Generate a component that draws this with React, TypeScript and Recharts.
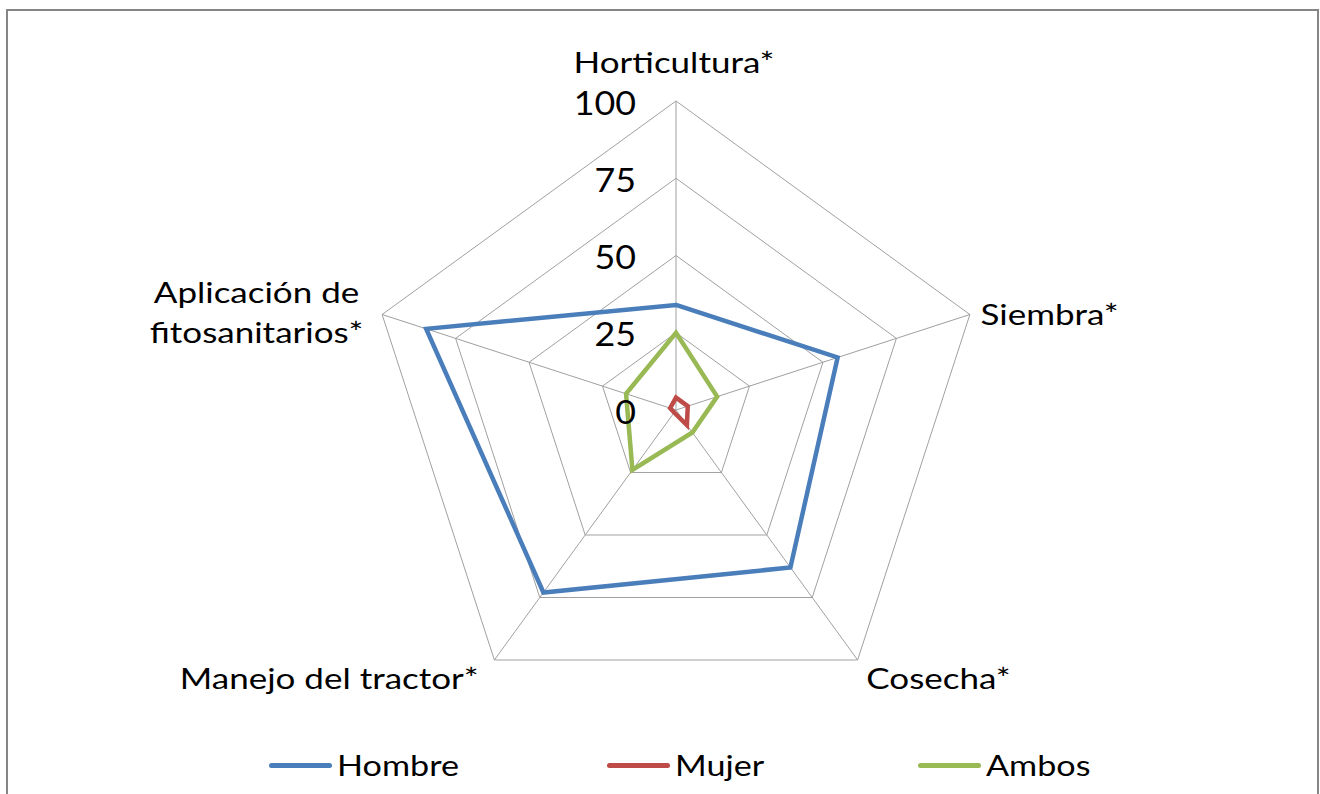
import React from 'react';
import { RadarChart, PolarGrid, PolarAngleAxis, PolarRadiusAxis, Radar, Legend } from 'recharts';

const categories = ['Horticultura*', 'Siembra*', 'Cosecha*', 'Manejo del tractor*', 'Aplicación de fitosanitarios*'];
const categoryLabelLines = [['Horticultura*'], ['Siembra*'], ['Cosecha*'], ['Manejo del tractor*'], ['Aplicación de', 'fitosanitarios*']];
const seriesNames = ['Hombre', 'Mujer', 'Ambos'];
const hombre = [34, 55, 63, 73, 85];
const mujer = [4, 4, 6, 1, 2];
const ambos = [25, 14, 9, 24, 17];
const radiusTicks = [0, 25, 50, 75, 100];

const data = categories.map((c, i) => ({ cat: c, hombre: hombre[i], mujer: mujer[i], ambos: ambos[i] }));

const FONT = 'Lato, "Noto Sans", sans-serif';
const STRETCH = 1.25;

// per-index label placement relative to the tick anchor point
const labelPlacement = [
  { dx: -2, dy: -31, anchor: 'middle' },
  { dx: 3, dy: 2, anchor: 'start' },
  { dx: 4, dy: 12, anchor: 'start' },
  { dx: -11, dy: 12, anchor: 'end' },
  { dx: -118, dy: 0, anchor: 'middle' },
];

const AngleTick = (props: any) => {
  const { x, y, index } = props;
  const p = labelPlacement[index] || { dx: 0, dy: 0, anchor: 'middle' };
  const lines = categoryLabelLines[index] || [String(props.payload?.value)];
  const lh = 40;
  const start = -((lines.length - 1) * lh) / 2;
  return (
    <text transform={`translate(${x + p.dx},${y + p.dy}) scale(${STRETCH},1)`} x={0} y={0} textAnchor={p.anchor} fill="#000" fontSize={28} fontFamily={FONT}>
      {lines.map((l: string, i: number) => (
        <tspan key={i} x={0} dy={i === 0 ? start : lh} dominantBaseline="central">{l}</tspan>
      ))}
    </text>
  );
};

const RadiusTick = (props: any) => {
  const { x, y, payload } = props;
  return (
    <text transform={`translate(${x - 40},${y + 1}) scale(1.12,1)`} x={0} y={0} textAnchor="end" dominantBaseline="central" fill="#000" fontSize={32} fontFamily={FONT}>
      {payload.value}
    </text>
  );
};

const LegendContent = (props: any) => {
  const payload = [...(props.payload || [])].sort(
    (a: any, b: any) => seriesNames.indexOf(a.value) - seriesNames.indexOf(b.value)
  );
  return (
    <div style={{ display: 'flex', justifyContent: 'center', gap: 150, paddingLeft: 40, fontFamily: FONT, fontSize: 28, color: '#000' }}>
      {payload.map((e: any, i: number) => (
        <div key={i} style={{ display: 'flex', alignItems: 'center' }}>
          <span style={{ display: 'inline-block', width: 63, height: 5, borderRadius: 3, background: e.color, marginRight: 5 }} />
          <span style={{ display: 'inline-block', transform: 'scaleX(1.22)', transformOrigin: 'left center', marginRight: 20 }}>{e.value}</span>
        </div>
      ))}
    </div>
  );
};

export default function App() {
  return (
    <div style={{ position: 'absolute', left: 0, top: 0, width: 1320, height: 794, background: '#fff', overflow: 'hidden' }}>
      <div style={{ position: 'absolute', left: 6, top: 9, width: 1309, height: 800, border: '2px solid #858585' }} />
      <div style={{ position: 'absolute', left: 0, top: 0 }}>
        <RadarChart width={1320} height={794} data={data} cx={676} cy={410} outerRadius={309} margin={{ top: 0, right: 0, bottom: 0, left: 0 }}>
          <PolarGrid gridType="polygon" stroke="#a0a0a0" strokeWidth={1} />
          <PolarAngleAxis dataKey="cat" tick={<AngleTick />} tickLine={false} axisLine={false} />
          <PolarRadiusAxis angle={90} domain={[0, 100]} ticks={radiusTicks as any} tickCount={5} tick={<RadiusTick />} axisLine={false} tickLine={false} />
          <Radar dataKey="hombre" name="Hombre" stroke="#4A7EBB" strokeWidth={4.5} fill="none" fillOpacity={0} dot={false} isAnimationActive={false} />
          <Radar dataKey="mujer" name="Mujer" stroke="#BE4B48" strokeWidth={4.5} fill="none" fillOpacity={0} dot={false} isAnimationActive={false} />
          <Radar dataKey="ambos" name="Ambos" stroke="#98B954" strokeWidth={4.5} fill="none" fillOpacity={0} dot={false} isAnimationActive={false} />
          <Legend content={<LegendContent />} wrapperStyle={{ left: 0, top: 748, width: 1320 }} />
        </RadarChart>
      </div>
    </div>
  );
}
